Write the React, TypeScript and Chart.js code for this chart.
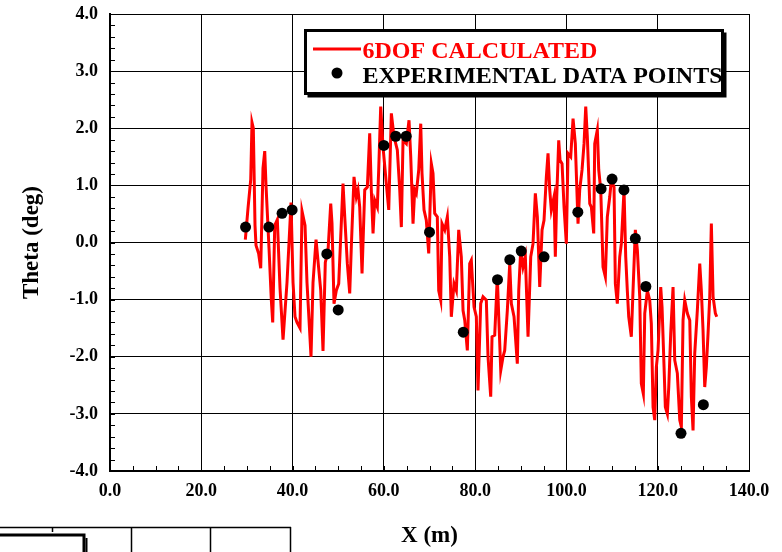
import React, { useEffect, useRef } from "react";
import { Chart, registerables } from "chart.js";
Chart.register(...registerables);

// ---- data ----
const calcX = [
  29.65, 30.24, 30.83, 31.11, 31.40, 31.77, 31.99, 32.58, 33.02, 33.52, 33.90, 34.18, 34.84, 35.34, 35.65, 36.09,
  36.66, 37.25, 37.91, 38.78, 39.66, 40.10, 40.54, 40.97, 41.63, 42.07, 42.73, 43.16, 44.04, 44.48, 45.14, 46.17,
  46.67, 47.17, 47.77, 48.36, 48.64, 49.08, 49.58, 50.11, 50.55, 51.05, 51.43, 52.00, 52.52, 52.87, 53.46, 53.97,
  54.34, 54.71, 55.22, 55.81, 56.38, 56.90, 57.25, 57.63, 58.00, 58.57, 58.87, 59.31, 59.82, 60.54, 61.07, 61.64,
  62.23, 62.95, 63.48, 63.83, 64.20, 64.92, 65.51, 65.89, 66.39, 66.76, 67.11, 67.64, 68.08, 68.36, 68.80, 69.30,
  69.83, 70.40, 70.77, 71.14, 71.71, 72.02, 72.46, 72.74, 73.34, 73.91, 74.43, 74.78, 75.37, 75.88, 76.40, 76.97,
  77.35, 77.72, 78.29, 78.81, 79.16, 79.76, 80.26, 80.63, 81.22, 81.73, 82.45, 82.82, 83.41, 83.70, 84.29, 84.86,
  85.17, 85.61, 86.11, 86.48, 87.05, 87.58, 87.93, 88.52, 89.24, 89.55, 89.99, 90.49, 91.00, 91.59, 92.18, 92.68,
  93.19, 93.63, 94.15, 94.66, 95.09, 95.60, 95.97, 96.34, 96.69, 97.28, 97.57, 97.88, 98.31, 98.60, 99.04, 99.48,
  99.98, 100.35, 100.94, 101.45, 101.95, 102.54, 102.91, 103.42, 103.86, 104.23, 104.58, 105.11, 105.46, 105.98, 106.20, 106.77,
  107.08, 107.52, 108.02, 108.53, 108.96, 109.49, 109.84, 110.43, 110.72, 111.15, 111.68, 112.03, 112.62, 112.99, 113.34, 113.65,
  114.22, 114.59, 115.10, 115.54, 116.06, 116.41, 116.85, 117.16, 117.73, 118.25, 118.60, 118.98, 119.35, 119.70, 120.07, 120.66,
  120.95, 121.39, 121.67, 122.11, 122.42, 122.85, 123.36, 123.73, 124.30, 124.83, 125.18, 125.55, 125.92, 126.49, 127.02, 127.37,
  127.74, 128.11, 128.68, 129.21, 129.56, 129.93, 130.30, 130.65, 131.03, 131.40, 131.75, 132.13, 132.63, 132.93,
];
const calcY = [
  0.05, 0.6, 1.1, 2.1, 2.0, 0.3, -0.05, -0.2, -0.45, 1.3, 1.6, 1.0, -0.1, -1.0, -1.4, 0.3,
  0.4, -0.8, -1.7, -0.7, 0.7, -0.7, -1.3, -1.4, -1.5, 0.55, 0.3, -0.7, -2.0, -0.7, 0.05, -0.84,
  -1.9, -0.35, -0.14, 0.68, 0.33, -1.07, -0.84, -0.72, 0.1, 1.03, 0.45, -0.37, -0.89, -0.08, 1.15, 0.8,
  0.92, 0.62, -0.54, 0.92, 0.97, 1.91, 0.92, 0.16, 0.74, 0.62, 1.27, 2.38, 1.67, 1.03, 0.57, 2.26,
  1.85, 1.62, 0.92, 0.27, 1.79, 1.73, 2.14, 1.5, 0.33, 0.92, 0.86, 1.27, 2.08, 1.21, 0.57, 0.39,
  -0.19, 1.38, 1.21, 0.51, 0.45, -0.84, -1.01, 0.33, 0.22, 0.45, -0.25, -1.3, -0.72, -0.84, 0.22, -0.25,
  -1.19, -1.36, -1.89, -0.37, -0.31, -1.13, -1.3, -2.59, -1.07, -0.95, -1.01, -2.0, -2.7, -1.65, -1.62, -0.6,
  -1.3, -2.24, -2.0, -1.89, -1.19, -0.37, -1.07, -1.3, -2.12, -0.84, -0.13, -0.43, -0.25, -1.65, -0.25, -0.02,
  0.86, 0.45, -0.78, 0.22, 0.39, 1.15, 1.56, 0.92, 0.57, 0.8, -0.25, 0.8, 1.79, 1.44, 1.38, 0.62,
  -0.02, 1.56, 1.5, 2.17, 1.73, 0.33, 0.92, 1.27, 1.73, 2.38, 1.85, 0.68, 0.62, 0.16, 1.73, 1.97,
  1.27, 0.92, -0.43, -0.6, 0.45, 0.8, 1.09, 0.97, -0.72, -1.07, -0.25, -0.02, 0.92, -0.25, -0.84, -1.3,
  -1.65, -0.84, 0.22, -0.13, -0.95, -2.47, -2.65, -1.24, -0.84, -1.01, -1.42, -2.88, -3.11, -2.18, -1.89, -0.78,
  -1.13, -2.18, -2.88, -3.0, -2.53, -1.59, -0.78, -2.06, -2.29, -3.11, -3.23, -1.36, -1.01, -1.24, -1.36, -2.7,
  -3.29, -1.94, -1.19, -0.37, -0.84, -1.54, -2.53, -2.18, -1.59, -0.95, 0.33, -0.95, -1.24, -1.3,
];
const expX = [29.7, 34.8, 37.7, 39.9, 47.5, 50.0, 60.0, 62.6, 64.9, 70.0, 77.4, 84.9, 87.6, 90.1, 95.1, 102.5, 107.6, 110.0, 112.6, 115.1, 117.4, 125.1, 130.0];
const expY = [0.27, 0.27, 0.51, 0.57, -0.2, -1.18, 1.7, 1.86, 1.86, 0.18, -1.57, -0.65, -0.3, -0.15, -0.25, 0.53, 0.94, 1.11, 0.92, 0.07, -0.77, -3.34, -2.84];
const seriesNames = ["6DOF CALCULATED", "EXPERIMENTAL DATA POINTS"];
const xRange = [0, 140];
const yRange = [-4, 4];
const xTitle = "X (m)";
const yTitle = "Theta (deg)";

const FONT = '"Liberation Serif", "Times New Roman", serif';
const RED = "#ff0000";

const minorTicks = {
  id: "minorTicks",
  beforeDatasetsDraw(chart: any) {
    const { ctx, chartArea: ca, scales } = chart;
    const x = scales.x, y = scales.y;
    ctx.save();
    ctx.strokeStyle = "#000";
    ctx.lineWidth = 1;
    ctx.beginPath();
    for (let v = xRange[0]; v <= xRange[1]; v += 5) {
      const px = Math.round(x.getPixelForValue(v)) + 0.5;
      ctx.moveTo(px, ca.bottom);
      ctx.lineTo(px, ca.bottom - 5);
    }
    for (let i = 0; i <= 40; i++) {
      const v = yRange[0] + i * 0.2;
      const py = Math.round(y.getPixelForValue(v)) + 0.5;
      ctx.moveTo(ca.left, py);
      ctx.lineTo(ca.left + 5, py);
    }
    ctx.stroke();
    ctx.restore();
  },
};

const boxLegend = {
  id: "boxLegend",
  afterDraw(chart: any) {
    const { ctx, chartArea: ca } = chart;
    const lineDs = chart.data.datasets[1];
    const ptDs = chart.data.datasets[0];
    const bx = ca.left + 195.5, by = ca.top + 16.5, bw = 417, bh = 63;
    ctx.save();
    ctx.fillStyle = "#000";
    ctx.fillRect(bx + 2, by + 2, bw + 2, bh + 2);
    ctx.fillStyle = "#fff";
    ctx.fillRect(bx, by, bw, bh);
    ctx.lineWidth = 3;
    ctx.strokeStyle = "#000";
    ctx.strokeRect(bx, by, bw, bh);
    // row 1
    ctx.strokeStyle = lineDs.borderColor;
    ctx.lineWidth = 3;
    ctx.beginPath();
    ctx.moveTo(bx + 7.5, by + 18.5);
    ctx.lineTo(bx + 55.5, by + 18.5);
    ctx.stroke();
    ctx.font = `bold 24px ${FONT}`;
    ctx.textBaseline = "alphabetic";
    ctx.textAlign = "left";
    ctx.fillStyle = lineDs.borderColor;
    ctx.fillText(lineDs.label, bx + 57, by + 27.5);
    // row 2
    ctx.fillStyle = ptDs.backgroundColor;
    ctx.beginPath();
    ctx.arc(bx + 31.5, by + 42.5, 5.5, 0, Math.PI * 2);
    ctx.fill();
    ctx.fillStyle = "#000";
    ctx.fillText(ptDs.label, bx + 57, by + 52.5);
    ctx.restore();
  },
};

// fragment of a neighbouring figure visible at the bottom-left of the page
const pageFragment = {
  id: "pageFragment",
  afterDraw(chart: any) {
    const { ctx } = chart;
    ctx.save();
    ctx.strokeStyle = "#000";
    ctx.lineWidth = 1.5;
    ctx.beginPath();
    ctx.moveTo(0, 527.5);
    ctx.lineTo(291, 527.5);
    ctx.moveTo(52.5, 527);
    ctx.lineTo(52.5, 532);
    ctx.moveTo(131.5, 527);
    ctx.lineTo(131.5, 552);
    ctx.moveTo(210.5, 527);
    ctx.lineTo(210.5, 552);
    ctx.moveTo(290.5, 527);
    ctx.lineTo(290.5, 552);
    ctx.stroke();
    ctx.lineWidth = 3;
    ctx.beginPath();
    ctx.moveTo(0, 535);
    ctx.lineTo(84, 535);
    ctx.lineTo(84, 552);
    ctx.stroke();
    ctx.lineWidth = 2;
    ctx.beginPath();
    ctx.moveTo(86.5, 538);
    ctx.lineTo(86.5, 552);
    ctx.stroke();
    ctx.restore();
  },
};

export default function App() {
  const ref = useRef<HTMLCanvasElement>(null);
  useEffect(() => {
    if (!ref.current) return;
    const chart = new Chart(ref.current, {
      type: "scatter",
      data: {
        datasets: [
          {
            label: seriesNames[1],
            data: expX.map((x, i) => ({ x, y: expY[i] })),
            backgroundColor: "#000",
            borderWidth: 0,
            pointRadius: 5.5,
            showLine: false,
          },
          {
            label: seriesNames[0],
            data: calcX.map((x, i) => ({ x, y: calcY[i] })),
            borderColor: RED,
            backgroundColor: RED,
            borderWidth: 3,
            pointRadius: 0,
            showLine: true,
            tension: 0,
            borderJoinStyle: "miter",
          },
        ],
      },
      options: {
        animation: false,
        responsive: false,
        devicePixelRatio: 1,
        layout: { padding: { left: 0, top: 14, right: 33, bottom: 0 } },
        plugins: { legend: { display: false }, tooltip: { enabled: false } },
        scales: {
          x: {
            type: "linear",
            min: xRange[0],
            max: xRange[1],
            afterFit: (s: any) => { s.height = 81; s.paddingLeft = 0; s.paddingRight = 0; },
            ticks: {
              stepSize: 20,
              color: "#000",
              padding: 10,
              font: { family: FONT, weight: "bold", size: 18 },
              callback: (v: any) => Number(v).toFixed(1),
            },
            grid: { color: "#000", lineWidth: 1, drawTicks: false, tickLength: 0 },
            border: { color: "#000", width: 2 },
            title: {
              display: true,
              text: xTitle,
              color: "#000",
              font: { family: FONT, weight: "bold", size: 23 },
              padding: { top: 0, bottom: 2 },
            },
          },
          y: {
            type: "linear",
            min: yRange[0],
            max: yRange[1],
            afterFit: (s: any) => { s.width = 110; s.paddingTop = 0; s.paddingBottom = 0; },
            ticks: {
              stepSize: 1,
              color: "#000",
              padding: 12,
              font: { family: FONT, weight: "bold", size: 18 },
              callback: (v: any) => Number(v).toFixed(1),
            },
            grid: { color: "#000", lineWidth: 1, drawTicks: false, tickLength: 0 },
            border: { color: "#000", width: 2 },
            title: {
              display: true,
              text: yTitle,
              color: "#000",
              font: { family: FONT, weight: "bold", size: 23 },
              padding: { top: 18, bottom: 0 },
            },
          },
        },
      },
      plugins: [minorTicks, boxLegend, pageFragment],
    });
    return () => chart.destroy();
  }, []);
  return (
    <div style={{ position: "fixed", left: 0, top: 0, width: 782, height: 552, background: "#fff" }}>
      <canvas ref={ref} width={782} height={552} style={{ width: 782, height: 552, display: "block" }} />
    </div>
  );
}
